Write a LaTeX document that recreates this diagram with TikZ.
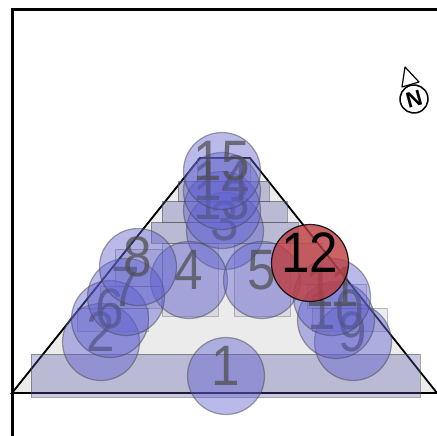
\documentclass[tikz,border=0pt]{standalone}
\usepackage{fontspec}
\setmainfont{Liberation Sans}
\definecolor{floor}{HTML}{EBEBEB}
\definecolor{seat}{HTML}{6060D0}
\definecolor{zonefill}{HTML}{5858A8}
\definecolor{rim}{HTML}{4A4A4A}
\definecolor{numgray}{HTML}{4C4C4C}
\definecolor{picked}{HTML}{BC3C40}
\tikzset{
  room/.style={draw=black, fill=floor, line width=1.8pt},
  wall/.style={line width=3pt, color=black},
  zone/.style={draw=rim, draw opacity=.5, fill=zonefill, fill opacity=.33},
  zonefaint/.style={zone, draw opacity=.35, fill opacity=.12},
  seatnum/.style={text=numgray, text opacity=.72, inner sep=0pt, yshift=10pt, xscale=.9, transform shape,
              font=\fontsize{57}{57}\selectfont},
  seatnode/.style={circle, draw=rim, draw opacity=.5, line width=1.2pt, fill=seat, fill opacity=.44,
              minimum size=77pt, inner sep=0pt},
  pickednode/.style={seatnode, draw=black, draw opacity=.85, fill=picked, fill opacity=.8},
  needle/.style={draw=black, fill=white, line width=1.2pt, line join=round},
}
\begin{document}
\begin{tikzpicture}[x=1pt,y=-1pt]
\useasboundingbox (0,0) rectangle (437,436);
\draw[room] (12,393) -- (200,158) -- (250,158) -- (437,393) -- cycle;
\draw[wall] (12,436) -- (12,10) -- (437,10);
% zones
\draw[zone] (31,354) rectangle (420,397);
\draw[zone] (151,222) rectangle (298,243);
\draw[zone] (162,201) rectangle (287,222);
\draw[zone] (178,181) rectangle (269,201);
\draw[zonefaint] (197,158) rectangle (250,181);
\draw[zonefaint] (162,243) rectangle (218,316);
\draw[zonefaint] (234,243) rectangle (290,316);
\draw[zonefaint] (298,243) rectangle (322,284);
\draw[zonefaint] (77,308) rectangle (148,331);
\draw[zonefaint] (100,286) rectangle (161,308);
\draw[zonefaint] (115,249) rectangle (162,286);
\draw[zonefaint] (312,308) rectangle (387,331);
\draw[zonefaint] (307,284) rectangle (366,308);
% seats
\node[seatnode,label={[seatnum]center:1}] (s1) at (226,376) {};
\node[seatnode,label={[seatnum]center:2}] (s2) at (101,342) {};
\node[seatnode,label={[seatnum]center:3}] (s3) at (225,231) {};
\node[seatnode,label={[seatnum]center:4}] (s4) at (189,280) {};
\node[seatnode,label={[seatnum]center:5}] (s5) at (262,280) {};
\node[seatnode,label={[seatnum]center:6}] (s6) at (110,319) {};
\node[seatnode,label={[seatnum]center:7}] (s7) at (126,297) {};
\node[seatnode,label={[seatnum]center:8}] (s8) at (138,267) {};
\node[seatnode,label={[seatnum]center:9}] (s9) at (353,342) {};
\node[seatnode,label={[seatnum]center:10}] (s10) at (336,320) {};
\node[seatnode,label={[seatnum]center:11}] (s11) at (332,297) {};
\node[seatnode,label={[seatnum]center:13}] (s13) at (222,210) {};
\node[seatnode,label={[seatnum]center:14}] (s14) at (222,191) {};
\node[seatnode,label={[seatnum]center:15}] (s15) at (222,171) {};
\node[pickednode,label={[seatnum,text=black,text opacity=1]center:12}] (s12) at (310,263) {};
% north arrow
\draw[needle] (405,67) -- (402,87) -- (419,82) -- cycle;
\node[circle, draw=black, line width=1.5pt, minimum size=28pt, inner sep=0pt, rotate=15, font=\fontsize{22}{22}\selectfont\bfseries] (north) at (414,99) {N};
\end{tikzpicture}
\end{document}
